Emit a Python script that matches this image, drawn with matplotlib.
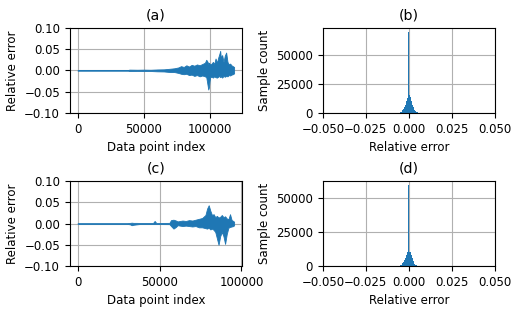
import matplotlib
matplotlib.use("Agg")
import matplotlib.pyplot as plt

# envelope of the relative error (index, upper, lower)
a_idx = [0, 10000, 20000, 30000, 38000, 39000, 45000, 50000, 55000, 60000, 65000,
         70000, 73000, 76000, 78000, 80000, 82000, 84000, 86000, 88000, 90000,
         92000, 94000, 96000, 97000, 98000, 98500, 99000, 99500, 100000, 101000,
         102000, 103000, 104000, 105000, 106000, 107000, 107500, 108000, 109000,
         110000, 111000, 112000, 113000, 114000, 115000, 116000, 117000, 118000]
a_hi = [0.0008, 0.0008, 0.0008, 0.0008, 0.0008, 0.0018, 0.0015, 0.0018, 0.0015, 0.0022, 0.0025,
        0.004, 0.005, 0.007, 0.010, 0.008, 0.012, 0.009, 0.013, 0.011, 0.014,
        0.012, 0.015, 0.018, 0.025, 0.020, 0.015, 0.018, 0.016, 0.014, 0.016,
        0.020, 0.015, 0.028, 0.018, 0.030, 0.040, 0.046, 0.030, 0.036,
        0.020, 0.035, 0.042, 0.020, 0.014, 0.016, 0.012, 0.010, 0.008]
a_lo = [-0.0008, -0.0008, -0.0008, -0.0008, -0.0008, -0.0015, -0.0012, -0.0015, -0.0015, -0.0022, -0.0025,
        -0.004, -0.004, -0.006, -0.008, -0.009, -0.008, -0.011, -0.010, -0.013, -0.011,
        -0.014, -0.012, -0.014, -0.016, -0.035, -0.045, -0.040, -0.025, -0.016, -0.015,
        -0.017, -0.014, -0.016, -0.017, -0.015, -0.013, -0.016, -0.014, -0.017,
        -0.013, -0.015, -0.013, -0.014, -0.011, -0.012, -0.010, -0.009, -0.007]

c_idx = [0, 30000, 32000, 33000, 34000, 36000, 38000, 46000, 47000, 48000, 56000,
         57000, 58500, 60000, 61000, 64000, 66000, 68000, 70000, 72000, 74000,
         76000, 78000, 79000, 80000, 81000, 82000, 83000, 84000, 85000, 86000,
         87000, 88000, 89000, 90000, 91000, 92000, 93000, 94000, 95000, 95500]
c_hi = [0.0008, 0.0008, 0.0015, 0.002, 0.0015, 0.0015, 0.0012, 0.0012, 0.006, 0.0012, 0.0015,
        0.008, 0.009, 0.007, 0.005, 0.007, 0.006, 0.008, 0.007, 0.009, 0.011,
        0.013, 0.020, 0.035, 0.043, 0.030, 0.020, 0.022, 0.015, 0.018, 0.014,
        0.016, 0.020, 0.015, 0.017, 0.012, 0.010, 0.022, 0.008, 0.006, 0.004]
c_lo = [-0.0008, -0.0008, -0.002, -0.004, -0.003, -0.002, -0.0012, -0.0012, -0.0012, -0.0012, -0.0015,
        -0.006, -0.012, -0.008, -0.004, -0.006, -0.005, -0.006, -0.007, -0.006, -0.009,
        -0.009, -0.011, -0.012, -0.010, -0.014, -0.012, -0.015, -0.020, -0.035, -0.050,
        -0.030, -0.020, -0.030, -0.048, -0.025, -0.010, -0.008, -0.007, -0.006, -0.004]

# histogram counts, bin width 0.0005
bin_centers = [-0.006, -0.0055, -0.005, -0.0045, -0.004, -0.0035, -0.003, -0.0025, -0.002,
               -0.0015, -0.001, -0.0005, 0.0, 0.0005, 0.001, 0.0015, 0.002, 0.0025, 0.003,
               0.0035, 0.004, 0.0045, 0.005, 0.0055, 0.006]
b_counts = [150, 300, 550, 900, 1400, 2200, 3500, 5000, 7000, 10000, 12500, 12800, 70000,
            15700, 14000, 10000, 7000, 5000, 3400, 2200, 1400, 900, 500, 300, 150]
d_counts = [120, 250, 450, 750, 1200, 1900, 3000, 4300, 6000, 8000, 10000, 10500, 59400,
            10500, 10000, 7800, 5800, 4000, 2800, 1800, 1100, 700, 400, 220, 120]

plt.rcParams['font.size'] = 8.5
fig, axes = plt.subplots(2, 2, figsize=(5.21, 3.13), dpi=100)
fig.subplots_adjust(left=0.134, right=0.950, top=0.911, bottom=0.150, wspace=0.47, hspace=0.8)

width = 0.0005
edges = [c - width / 2 for c in bin_centers] + [bin_centers[-1] + width / 2]

for ax, idx, hi, lo, n, title in [(axes[0, 0], a_idx, a_hi, a_lo, 118000, '(a)'),
                                  (axes[1, 0], c_idx, c_hi, c_lo, 95500, '(c)')]:
    ax.fill_between(idx, lo, hi, color='C0', lw=0.6)
    ax.set_xlim(-0.05 * n, 1.05 * n)
    ax.set_xticks([0, 50000, 100000])
    ax.set_ylim(-0.1, 0.1)
    ax.set_yticks([-0.1, -0.05, 0, 0.05, 0.1])
    ax.set_yticklabels(['\u22120.10', '\u22120.05', '0.00', '0.05', '0.10'])
    ax.set_xlabel('Data point index')
    ax.set_ylabel('Relative error')
    ax.set_title(title)
    ax.grid(True)
    ax.set_axisbelow(True)

for ax, counts, title in [(axes[0, 1], b_counts, '(b)'), (axes[1, 1], d_counts, '(d)')]:
    ax.hist(bin_centers, bins=edges, weights=counts, color='C0')
    ax.set_xlim(-0.05, 0.05)
    ax.set_xticks([-0.05, -0.025, 0, 0.025, 0.05])
    ax.set_xticklabels(['\u22120.050', '\u22120.025', '0.000', '0.025', '0.050'])
    ax.set_yticks([0, 25000, 50000])
    ax.set_xlabel('Relative error')
    ax.set_ylabel('Sample count')
    ax.set_title(title)
    ax.grid(True)
    ax.set_axisbelow(True)

fig.savefig('out.png')
